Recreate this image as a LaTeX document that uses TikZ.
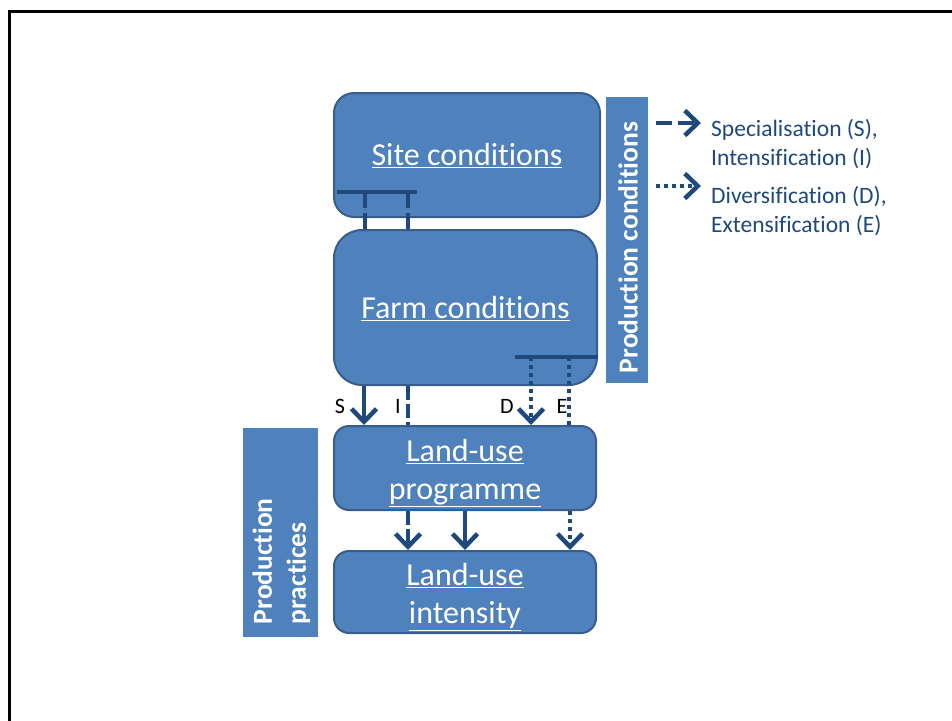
\documentclass[tikz,border=0pt]{standalone}
\usepackage{fontspec}
\setmainfont{Carlito}[Ligatures={NoCommon,NoContextual}]
\usetikzlibrary{arrows.meta}
\definecolor{boxfill}{HTML}{4F81BD}
\definecolor{boxline}{HTML}{385D8A}
\definecolor{darkline}{HTML}{1F497D}
\tikzset{
  block/.style={draw=boxline, line width=2pt, fill=boxfill, inner sep=0pt},
  blocktext/.style={text=white, align=center, inner sep=0pt,
    font=\fontsize{32}{38}\selectfont},
  sidebar/.style={fill=boxfill, inner sep=0pt},
  sidetext/.style={text=white, inner sep=0pt, align=left, rotate=90,
    font=\fontsize{27.5}{34}\selectfont\bfseries},
  flow/.style={draw=darkline, line width=4pt},
  tip/.style={-{Straight Barb[length=13pt,width=25pt,line width=4.5pt]}},
  dashline/.style={dash pattern=on 14pt off 4pt},
  dotline/.style={dash pattern=on 4pt off 4pt},
  letter/.style={font=\fontsize{22}{26}\selectfont, text=black, inner sep=0pt},
  legendtext/.style={font=\fontsize{23.5}{28.5}\selectfont, text=darkline,
    align=left, anchor=west, inner sep=0pt}
}
\begin{document}
\begin{tikzpicture}[x=1pt,y=-1pt]
\useasboundingbox (0,0) rectangle (952,720);
% outer frame, running off the right and bottom edges
\draw[line width=3pt, black] (9.5,11) rectangle (970,740);

% main blocks
\node[block, rounded corners=20pt, minimum width=266pt, minimum height=124pt]
  (site) at (467,155) {};
\node[blocktext] (sitetext) at ([yshift=-1pt]site.center) {\underline{Site conditions}};
\node[block, rounded corners=28pt, minimum width=263pt, minimum height=155pt]
  (farm) at (465.5,307.5) {};
\node[blocktext] (farmtext) at ([yshift=-1pt]farm.center) {\underline{Farm conditions}};
\node[block, rounded corners=15pt, minimum width=262pt, minimum height=84pt]
  (prog) at (465,468) {};
\node[blocktext] (progtext) at ([yshift=-5pt]prog.center) {\underline{Land-use}\\\underline{programme}};
\node[block, rounded corners=15pt, minimum width=262pt, minimum height=82pt]
  (intens) at (465,592) {};
\node[blocktext] (intenstext) at ([yshift=-5pt]intens.center) {\underline{Land-use}\\\underline{intensity}};

% side bars, text reading upwards from near the lower edge
\node[sidebar, minimum width=42pt, minimum height=286pt] (pcond) at (627,240) {};
\node[sidetext, anchor=west] (pcondtext) at ([xshift=1pt,yshift=10pt]pcond.south) {Production conditions};
\node[sidebar, minimum width=75pt, minimum height=209pt] (pprac) at (280.5,532.5) {};
\node[sidetext, anchor=west] (ppractext) at ([xshift=1pt,yshift=13pt]pprac.south) {Production\\practices};

% x positions of the flow lines
\coordinate (xa) at (365,0);
\coordinate (xb) at (408,0);
\coordinate (xs) at (364,0);
\coordinate (xd) at (531,0);
\coordinate (xe) at (569,0);
\coordinate (xm) at (465,0);
\coordinate (xr) at (570,0);

% branching bar inside the site block
\coordinate (barL) at (337,192);
\coordinate (barR) at (417,192);
\draw[flow] (barL) -- (barR);
\draw[flow, dash pattern=on 16pt off 5pt] (barL -| xa) -- (farm.north -| xa);
\draw[flow, dash pattern=on 16pt off 5pt] (barL -| xb) -- (farm.north -| xb);

% farm block to land-use programme
\draw[flow, tip] (farm.south -| xs) -- (prog.north -| xs);
\draw[flow, dashline] (farm.south -| xb) -- (prog.north -| xb);
\coordinate (fbarL) at (515,357);
\draw[flow] (fbarL) -- (fbarL -| farm.east);
\draw[flow, dotline, tip] (fbarL -| xd) -- (prog.north -| xd);
\draw[flow, dotline] (fbarL -| xe) -- (prog.north -| xe);

\node[letter] (lS) at (340,406) {S};
\node[letter] (lI) at (398,406) {I};
\node[letter] (lD) at (507,406) {D};
\node[letter] (lE) at (562,406) {E};

% land-use programme to land-use intensity
\draw[flow, dashline, tip] (prog.south -| xb) -- (intens.north -| xb);
\draw[flow, tip] (prog.south -| xm) -- (intens.north -| xm);
\draw[flow, dotline, tip] (prog.south -| xr) -- (intens.north -| xr);

% legend
\coordinate (k1a) at (656,123);
\coordinate (k1b) at (701,123);
\coordinate (k2a) at (656,186);
\coordinate (k2b) at (701,186);
\draw[flow, dash pattern=on 16pt off 6pt, tip] (k1a) -- (k1b);
\draw[flow, dotline, tip] (k2a) -- (k2b);
\node[legendtext] (t1) at (711,144) {Specialisation (S),\\Intensification (I)};
\node[legendtext] (t2) at (711,211) {Diversification (D),\\Extensification (E)};
\end{tikzpicture}
\end{document}
